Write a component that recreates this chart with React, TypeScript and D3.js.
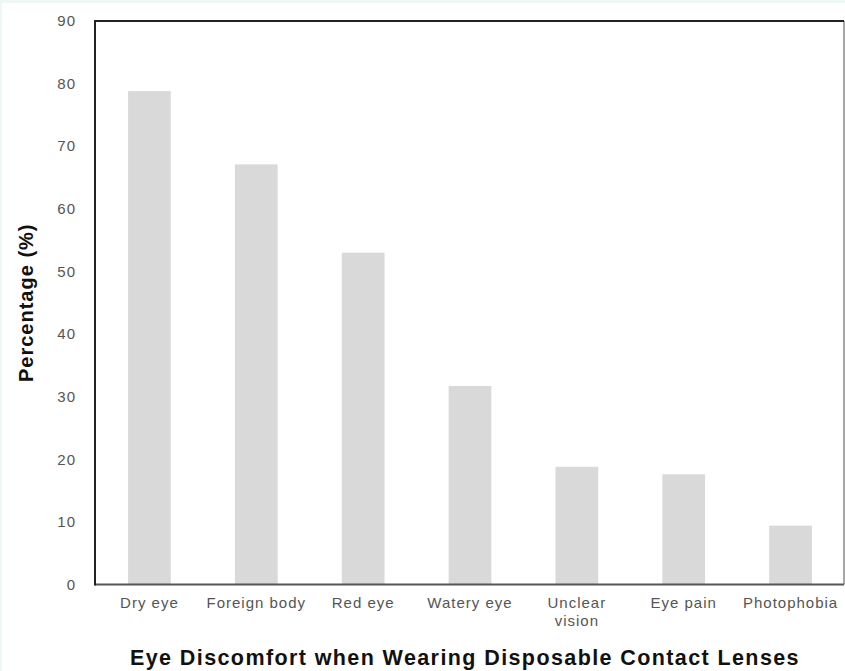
import React from "react";
import * as d3 from "d3";

const categories: string[][] = [
  ["Dry eye"],
  ["Foreign body"],
  ["Red eye"],
  ["Watery eye"],
  ["Unclear", "vision"],
  ["Eye pain"],
  ["Photophobia"],
];
const values: number[] = [78.8, 67.1, 53.0, 31.7, 18.8, 17.6, 9.4];
const yTicks: number[] = [0, 10, 20, 30, 40, 50, 60, 70, 80, 90];
const yLabel = "Percentage (%)";
const title = "Eye Discomfort when Wearing Disposable Contact Lenses";

const W = 845;
const H = 671;
const left = 96;
const right = 844;
const top = 21;
const bottom = 584.5;

export default function App() {
  const keys = categories.map((c) => c.join(" "));
  const x = d3
    .scaleBand<string>()
    .domain(keys)
    .range([left, right])
    .paddingInner(0.6)
    .paddingOuter(0.3);
  const y = d3.scaleLinear().domain([0, 90]).range([bottom, top]);
  const font = "'Liberation Sans', Arial, sans-serif";

  return (
    <svg
      width={W}
      height={H}
      style={{ position: "absolute", left: 0, top: 0 }}
      fontFamily={font}
    >
      <rect x={0} y={0} width={W} height={H} fill="#eef6f6" />
      <rect x={2} y={3} width={W - 2} height={H - 3} fill="#ffffff" />

      {values.map((v, i) => (
        <rect
          key={keys[i]}
          x={x(keys[i])!}
          y={y(v)}
          width={x.bandwidth()}
          height={y(0) - y(v)}
          fill="#d9d9d9"
        />
      ))}

      {/* frame */}
      <line x1={right} x2={right} y1={top} y2={bottom} stroke="#888" strokeWidth={1.5} />
      <line x1={left - 1} x2={right} y1={bottom} y2={bottom} stroke="#555" strokeWidth={2} />
      <line x1={left - 1} x2={right} y1={top} y2={top} stroke="#222" strokeWidth={2} />
      <line x1={left - 1} x2={left - 1} y1={top - 1} y2={bottom + 1} stroke="#222" strokeWidth={2} />

      {yTicks.map((t) => (
        <text
          key={t}
          x={76}
          y={y(t)}
          dy="0.35em"
          textAnchor="end"
          fontSize={15}
          letterSpacing={1}
          fill="#555"
        >
          {t}
        </text>
      ))}

      {categories.map((lines, i) => (
        <text
          key={keys[i]}
          x={x(keys[i])! + x.bandwidth() / 2}
          y={608}
          textAnchor="middle"
          fontSize={15}
          letterSpacing={1}
          fill="#555"
        >
          {lines.map((l, j) => (
            <tspan key={j} x={x(keys[i])! + x.bandwidth() / 2} dy={j === 0 ? 0 : 18}>
              {l}
            </tspan>
          ))}
        </text>
      ))}

      <text
        transform={`translate(33,${(top + bottom) / 2}) rotate(-90)`}
        textAnchor="middle"
        fontSize={20}
        fontWeight="bold"
        letterSpacing={1}
        fill="#111"
      >
        {yLabel}
      </text>

      <text
        x={465}
        y={665}
        textAnchor="middle"
        fontSize={21.5}
        fontWeight="bold"
        letterSpacing={1.4}
        fill="#111"
      >
        {title}
      </text>
    </svg>
  );
}
